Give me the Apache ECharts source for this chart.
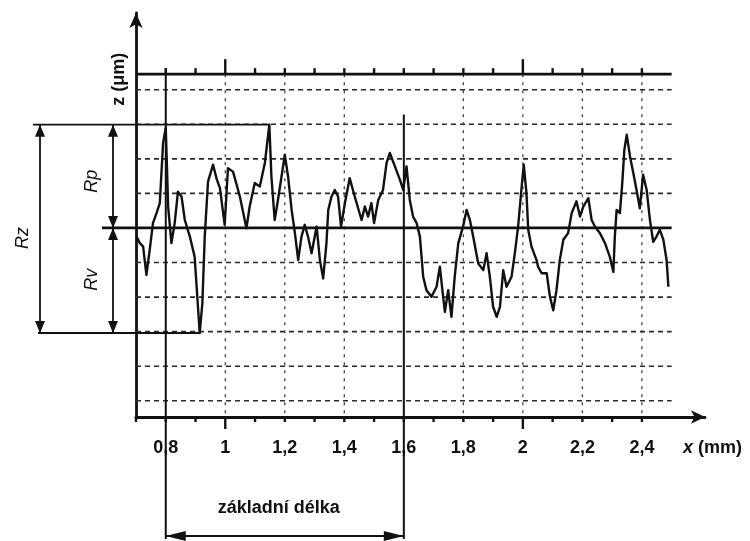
<!DOCTYPE html>
<html>
<head>
<meta charset="utf-8">
<script src="https://cdn.jsdelivr.net/npm/echarts@6/dist/echarts.min.js"></script>
<style>html,body{margin:0;padding:0;background:#fff}#c{width:750px;height:541px}</style>
</head>
<body>
<div id="c"></div>
<script>
// ---- data (x in mm, z in µm relative to mean line) ----
const profileX = [
  0.702,0.713,0.724,0.735,0.746,0.757,0.769,0.780,0.791,0.800,0.808,0.819,0.830,0.841,0.853,0.864,0.881,0.897,0.909,0.914,
  0.923,0.931,0.942,0.959,0.972,0.982,0.998,1.009,1.026,1.049,1.071,1.082,1.099,1.116,1.133,1.148,
  1.155,1.166,1.177,1.189,1.200,1.211,1.223,1.234,1.245,1.256,1.267,1.278,1.290,1.307,1.318,1.329,1.340,1.346,1.357,1.368,
  1.379,1.389,1.402,1.418,1.435,1.458,1.469,1.480,1.491,1.500,1.514,1.530,1.542,1.553,1.570,1.587,1.598,1.609,
  1.620,1.631,1.643,1.654,1.665,1.676,1.693,1.710,1.721,1.732,1.738,1.749,1.760,1.771,1.783,1.799,1.811,1.822,1.833,1.850,
  1.867,1.878,1.889,1.900,1.912,1.923,1.934,1.945,1.962,1.973,1.984,1.996,2.003,2.012,2.018,2.029,2.046,
  2.051,2.063,2.080,2.091,2.102,2.113,2.124,2.136,2.152,2.164,2.180,2.192,2.203,2.220,2.231,2.242,2.259,2.276,2.292,2.304,
  2.309,2.315,2.326,2.334,2.341,2.349,2.360,2.371,2.382,2.393,2.404,2.416,2.427,2.438,2.449,2.460,2.472,2.483,2.489
];
const profileZ = [
  -0.25,-0.44,-0.54,-1.36,-0.64,0.14,0.43,0.72,2.46,2.90,0.62,-0.44,0.14,1.05,0.91,0.23,-0.25,-0.83,-2.38,-3.04,
  -2.18,-0.25,1.34,1.83,1.39,1.15,0.09,1.73,1.63,0.91,-0.01,0.62,1.30,1.20,1.88,2.99,
  1.49,0.23,0.81,1.49,2.12,1.49,0.52,-0.15,-0.93,-0.25,0.09,-0.25,-0.73,0.04,-0.93,-1.46,-0.44,0.52,0.91,1.10,
  0.91,0.04,0.72,1.44,0.91,0.23,0.62,0.33,0.72,0.14,0.81,1.10,1.88,2.17,1.78,1.39,1.10,1.78,
  0.81,0.33,0.14,-0.25,-1.41,-1.80,-1.99,-1.70,-1.12,-1.99,-2.43,-1.80,-2.57,-1.41,-0.44,0.04,0.52,0.23,-0.25,-1.03,
  -1.22,-0.73,-1.41,-2.28,-2.57,-2.28,-1.22,-1.70,-1.41,-0.73,0.04,1.20,1.83,1.01,-0.05,-0.54,-0.93,
  -1.12,-1.31,-1.31,-1.99,-2.38,-1.80,-0.93,-0.34,-0.15,0.43,0.77,0.33,0.62,0.86,0.23,0.04,-0.15,-0.44,-0.83,-1.27,
  -0.25,0.52,0.43,1.30,2.26,2.70,2.07,1.59,1.10,0.57,1.54,1.10,0.23,-0.40,-0.25,-0.05,-0.34,-0.93,-1.70
];
const xTickLabels = [0.8, 1, 1.2, 1.4, 1.6, 1.8, 2, 2.2, 2.4];
const bottomTicks = [0.7,0.8,0.9,1.0,1.1,1.2,1.3,1.4,1.5,1.6,1.7,1.8,1.9,2.0,2.1,2.2,2.3,2.4];
const rulerTicks  = [0.8,0.9,1.0,1.1,1.2,1.3,1.4,1.5,1.6,1.7,1.8,1.9,2.0,2.1,2.2,2.3,2.4];
const majorTicks = [1, 2];
const hGridZ = [4, 3, 2, 1, -1, -2, -3, -4, -5];
const vGridX = [1.0, 1.2, 1.4, 1.8, 2.0, 2.2, 2.4];
const rulerZ = 4.45;
const rpValue = 2.99, rvValue = -3.04;      // highest peak / deepest valley
const peakX = 1.148, valleyX = 0.914;        // where they occur
const sampleStart = 0.8, sampleEnd = 1.6;    // základní délka
const sampleEndTopZ = 3.28;
const xLabel = 'x (mm)', zLabel = 'z (μm)', baseLabel = 'základní délka';

// ---- axis ranges ----
const X_MIN = 0.7, X_MAX = 2.612, Z_MIN = -5.47, Z_MAX = 6.22, GRID_END = 2.5;

const FONT = '"Liberation Sans", Arial, sans-serif';
const INK = '#111';

function seg(p1, p2, w, dash, color) {
  return {type:'line', shape:{x1:p1[0], y1:p1[1], x2:p2[0], y2:p2[1]},
          style:{stroke: color || INK, lineWidth: w, lineDash: dash || null}};
}
function head(tip, dir, len, wid) {
  const x = tip[0], y = tip[1], h = wid / 2;
  let pts;
  if (dir === 'up') pts = [[x,y],[x-h,y+len],[x+h,y+len]];
  else if (dir === 'down') pts = [[x,y],[x-h,y-len],[x+h,y-len]];
  else if (dir === 'left') pts = [[x,y],[x+len,y-h],[x+len,y+h]];
  else pts = [[x,y],[x-len,y-h],[x-len,y+h]];
  return {type:'polygon', shape:{points:pts}, style:{fill: INK}};
}
function txt(x, y, text, o) {
  o = o || {};
  return {type:'text', x: x, y: y, rotation: o.rot || 0,
    style:{text: text, fontSize: o.size || 18, fontFamily: FONT,
      fontWeight: o.bold ? 'bold' : 'normal', fontStyle: o.italic ? 'italic' : 'normal',
      fill: INK, align: o.align || 'center', verticalAlign: 'middle', rich: o.rich}};
}

const chart = echarts.init(document.getElementById('c'), null, {width: 750, height: 541});

const option = {
  animation: false,
  backgroundColor: '#fff',
  grid: {left: 136, right: 45, top: 13, bottom: 124, containLabel: false},
  xAxis: {
    type: 'value', min: X_MIN, max: X_MAX, interval: 0.1,
    axisLine: {onZero: false, lineStyle: {color: INK, width: 2.8}, symbol: ['none', 'arrow'], symbolSize: [10, 14]},
    axisTick: {show: false}, splitLine: {show: false},
    axisLabel: {
      margin: 22, fontSize: 18, fontWeight: 'bold', fontFamily: FONT, color: INK,
      formatter: function (v) {
        const r = Math.round(v * 10) / 10;
        return xTickLabels.some(t => Math.abs(t - r) < 1e-6) ? String(r).replace('.', ',') : '';
      }
    }
  },
  yAxis: {
    type: 'value', min: Z_MIN, max: Z_MAX,
    axisLine: {show: true, onZero: false, lineStyle: {color: INK, width: 2.8}, symbol: ['none', 'arrow'], symbolSize: [10, 15]},
    axisTick: {show: false}, axisLabel: {show: false}, splitLine: {show: false}
  },
  series: [
    { // horizontal dashed grid
      type: 'custom', z: 1, silent: true,
      data: hGridZ.map(z => [X_MIN, z]),
      renderItem: function (p, api) {
        const z = api.value(1);
        return seg(api.coord([X_MIN, z]), api.coord([GRID_END, z]), 1.6, [5, 4], '#2a2a2a');
      }
    },
    { // vertical dashed grid
      type: 'custom', z: 1, silent: true,
      data: vGridX.map(x => [x, 0]),
      renderItem: function (p, api) {
        const x = api.value(0);
        return seg(api.coord([x, rulerZ]), api.coord([x, Z_MIN]), 1.3, [3, 5], '#444');
      }
    },
    { // bottom axis ticks
      type: 'custom', z: 3, silent: true,
      data: bottomTicks.map(x => [x, Z_MIN]),
      renderItem: function (p, api) {
        const x = api.value(0);
        const major = majorTicks.some(t => Math.abs(t - x) < 1e-6);
        const a = api.coord([x, Z_MIN]);
        return seg(a, [a[0], a[1] + (major ? 12 : 5)], 2.4);
      }
    },
    { // top ruler ticks
      type: 'custom', z: 3, silent: true,
      data: rulerTicks.map(x => [x, rulerZ]),
      renderItem: function (p, api) {
        const x = api.value(0);
        const major = majorTicks.some(t => Math.abs(t - x) < 1e-6);
        const a = api.coord([x, rulerZ]);
        return seg(a, [a[0], a[1] - (major ? 15 : 6)], 2.4);
      }
    },
    { // profile
      type: 'line', z: 5, silent: true,
      data: profileX.map((x, i) => [x, profileZ[i]]),
      symbol: 'none', lineStyle: {color: INK, width: 2.4, join: 'round'}
    },
    { // annotations: ruler, mean line, Rz / Rp / Rv, sampling length, labels
      type: 'custom', z: 4, silent: true,
      data: [[X_MIN, 0]],
      renderItem: function (p, api) {
        const O = api.coord([X_MIN, Z_MIN]);
        const yTop = api.coord([X_MIN, rpValue])[1];
        const yBot = api.coord([X_MIN, rvValue])[1];
        const yMid = api.coord([X_MIN, 0])[1];
        const xEnd = api.coord([GRID_END, 0])[0];
        const xPeak = api.coord([peakX, 0])[0];
        const xValley = api.coord([valleyX, 0])[0];
        const xRz = O[0] - 96, xRp = O[0] - 23;
        const xS = api.coord([sampleStart, 0])[0], xE = api.coord([sampleEnd, 0])[0];
        const yRuler = api.coord([X_MIN, rulerZ])[1];
        const ySEtop = api.coord([X_MIN, sampleEndTopZ])[1];
        const yArrow = O[1] + 119, yLow = O[1] + 122;
        const ch = [
          seg([O[0], yRuler], [xEnd, yRuler], 2.8),
          seg([O[0] - 34, yMid], [xEnd, yMid], 2.8),
          seg([O[0] - 103, yTop], [xPeak, yTop], 1.8),
          seg([O[0] - 98, yBot], [xValley, yBot], 1.8),
          seg([xRz, yTop], [xRz, yBot], 1.8),
          head([xRz, yTop], 'up', 12, 10), head([xRz, yBot], 'down', 12, 10),
          seg([xRp, yTop], [xRp, yBot], 1.8),
          head([xRp, yTop], 'up', 12, 10), head([xRp, yMid], 'down', 12, 10),
          head([xRp, yMid], 'up', 12, 10), head([xRp, yBot], 'down', 12, 10),
          seg([xS, yRuler - 6], [xS, yLow], 2),
          seg([xE, ySEtop], [xE, yLow], 2),
          seg([xS, yArrow], [xE, yArrow], 1.8),
          head([xS, yArrow], 'left', 20, 10), head([xE, yArrow], 'right', 20, 10),
          txt(O[0] - 17, api.coord([X_MIN, 4.3])[1], zLabel, {rot: Math.PI / 2, bold: true}),
          txt(xRz - 17, api.coord([X_MIN, -0.29])[1], 'Rz', {rot: Math.PI / 2, italic: true}),
          txt(xRp - 21, api.coord([X_MIN, 1.35])[1], 'Rp', {rot: Math.PI / 2, italic: true}),
          txt(xRp - 21, api.coord([X_MIN, -1.5])[1], 'Rv', {rot: Math.PI / 2, italic: true}),
          txt((xS + xE) / 2 - 6, O[1] + 91, baseLabel, {bold: true}),
          txt(api.coord([X_MAX, 0])[0] - 22, O[1] + 31, '{i|x} (mm)', {bold: true, align: 'left',
            rich: {i: {fontStyle: 'italic', fontWeight: 'bold', fontSize: 18, fontFamily: FONT, fill: INK}}})
        ];
        return {type: 'group', children: ch};
      }
    }
  ]
};
chart.setOption(option);
</script>
</body>
</html>
